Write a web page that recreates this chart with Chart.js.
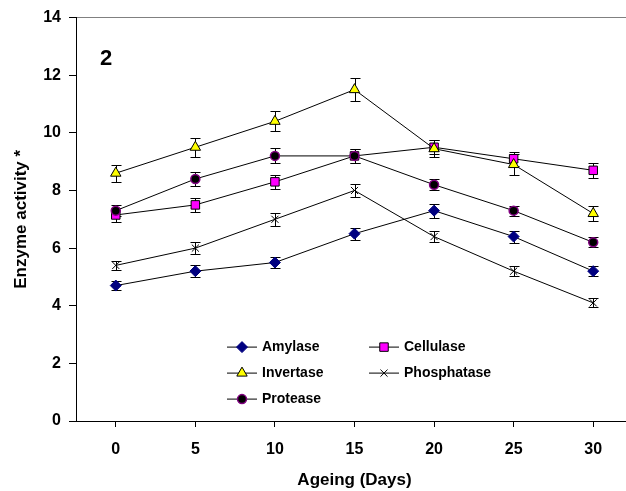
<!DOCTYPE html>
<html>
<head>
<meta charset="utf-8">
<script src="https://cdn.jsdelivr.net/npm/chart.js@4"></script>
<style>
    html, body { margin: 0; padding: 0; background: #fff; overflow: hidden; }
    #wrap { position: relative; width: 640px; height: 491px; }
</style>
</head>
<body>
<div id="wrap"><canvas id="enzymeChart"></canvas></div>
<script>
/* values, ageing in days */
const days = ['0', '5', '10', '15', '20', '25', '30'];

const amylase      = [4.7, 5.2, 5.5, 6.5, 7.3, 6.4, 5.2];
const amylaseErr   = [0.17, 0.2, 0.18, 0.21, 0.24, 0.21, 0.18];
const cellulase    = [7.15, 7.5, 8.3, 9.2, 9.5, 9.1, 8.7];
const cellulaseErr = [0.25, 0.24, 0.25, 0.25, 0.25, 0.25, 0.25];
const invertase    = [8.6, 9.5, 10.4, 11.5, 9.45, 8.9, 7.2];
const invertaseErr = [0.3, 0.33, 0.35, 0.4, 0.3, 0.37, 0.25];
const phosphatase    = [5.4, 6.0, 7.0, 8.0, 6.4, 5.2, 4.1];
const phosphataseErr = [0.17, 0.2, 0.23, 0.24, 0.2, 0.17, 0.16];
const protease     = [7.3, 8.4, 9.2, 9.2, 8.2, 7.3, 6.2];
const proteaseErr  = [0.2, 0.24, 0.26, 0.25, 0.2, 0.17, 0.17];

const yTicks = [0, 2, 4, 6, 8, 10, 12, 14];

const FONT = 'Liberation Sans, Arial, sans-serif';

// Excel-style error bars with caps
const errorBars = {
    id: 'errorBars',
    beforeDatasetsDraw(chart) {
        const ctx = chart.ctx;
        const y = chart.scales.y;
        ctx.save();
        ctx.strokeStyle = '#000';
        ctx.lineWidth = 1;
        chart.data.datasets.forEach((ds, i) => {
            chart.getDatasetMeta(i).data.forEach((pt, j) => {
                const x = Math.round(pt.x) + 0.5;
                const top = Math.round(y.getPixelForValue(ds.data[j] + ds.err[j])) + 0.5;
                const bot = Math.round(y.getPixelForValue(ds.data[j] - ds.err[j])) + 0.5;
                ctx.beginPath();
                ctx.moveTo(x, top); ctx.lineTo(x, bot);
                ctx.moveTo(x - 5, top); ctx.lineTo(x + 5, top);
                ctx.moveTo(x - 5, bot); ctx.lineTo(x + 5, bot);
                ctx.stroke();
            });
        });
        ctx.restore();
    }
};

// panel number and the two-column legend inside the plot
const panelLegend = {
    id: 'panelLegend',
    afterDraw(chart) {
        const ctx = chart.ctx;
        const area = chart.chartArea;
        ctx.save();
        ctx.fillStyle = '#000';
        ctx.font = 'bold 22px ' + FONT;
        ctx.textBaseline = 'alphabetic';
        ctx.fillText('2', area.left + 24, area.top + 47);

        ctx.font = 'bold 14px ' + FONT;
        ctx.textBaseline = 'middle';
        chart.data.datasets.forEach((ds, i) => {
            const x0 = area.left + 151 + (i % 2) * 142;
            const y0 = area.top + 329 + Math.floor(i / 2) * 26;
            ctx.strokeStyle = '#000';
            ctx.lineWidth = 1;
            ctx.beginPath();
            ctx.moveTo(x0, y0 + 0.5);
            ctx.lineTo(x0 + 30, y0 + 0.5);
            ctx.stroke();
            ctx.fillStyle = ds.pointBackgroundColor;
            ctx.strokeStyle = ds.pointBorderColor;
            ctx.lineWidth = ds.pointBorderWidth;
            Chart.helpers.drawPoint(ctx, {
                pointStyle: ds.pointStyle, radius: ds.pointRadius,
                rotation: 0, borderWidth: ds.pointBorderWidth
            }, x0 + 15, y0 + 0.5);
            ctx.fillStyle = '#000';
            ctx.fillText(ds.label, x0 + 35, y0 + 1);
        });
        ctx.restore();
    }
};

// later series sit on top, like the spreadsheet original
function series(label, data, err, style, radius, fill, border, bw, order) {
    return {
        label, data, err, order,
        borderColor: '#000', borderWidth: 1, tension: 0, fill: false,
        pointStyle: style, pointRadius: radius,
        pointBackgroundColor: fill, pointBorderColor: border, pointBorderWidth: bw
    };
}

new Chart(document.getElementById('enzymeChart').getContext('2d'), {
    type: 'line',
    data: {
        labels: days,
        datasets: [
            series('Amylase', amylase, amylaseErr, 'rectRot', 5.5, '#000080', '#000080', 1, 4),
            series('Cellulase', cellulase, cellulaseErr, 'rect', 6, '#FF00FF', '#000', 1, 3),
            series('Invertase', invertase, invertaseErr, 'triangle', 6, '#FFFF00', '#000', 1, 2),
            series('Phosphatase', phosphatase, phosphataseErr, 'crossRot', 5, '#000', '#000', 1, 1),
            series('Protease', protease, proteaseErr, 'circle', 4.5, '#000', '#800080', 1.5, 0)
        ]
    },
    options: {
        responsive: true,
        maintainAspectRatio: false,
        animation: false,
        events: [],
        layout: { padding: { top: 16, right: 1, bottom: 0, left: 0 } },
        plugins: { legend: { display: false }, tooltip: { enabled: false } },
        scales: {
            x: {
                offset: true,
                afterFit: s => { s.height = 70; },
                border: { color: '#000', width: 1 },
                grid: { drawOnChartArea: false, color: '#000', tickLength: 6 },
                ticks: { color: '#000', padding: 13, font: { family: FONT, size: 16, weight: 'bold' } },
                title: {
                    display: true, text: 'Ageing (Days)', color: '#000',
                    padding: { top: 0, bottom: 0 },
                    font: { family: FONT, size: 17, weight: 'bold' }
                }
            },
            y: {
                min: 0, max: 14,
                afterFit: s => { s.width = 76; },
                afterBuildTicks: s => { s.ticks = yTicks.map(v => ({ value: v })); },
                border: { color: '#000', width: 1 },
                grid: {
                    color: c => (c.tick && c.tick.value === 14 ? '#808080' : 'rgba(0,0,0,0)'),
                    tickColor: '#000', tickLength: 7
                },
                ticks: { color: '#000', padding: 8, font: { family: FONT, size: 16, weight: 'bold' } },
                title: {
                    display: true, text: 'Enzyme activity *', color: '#000',
                    padding: { top: 11, bottom: 0 },
                    font: { family: FONT, size: 17, weight: 'bold' }
                }
            }
        }
    },
    plugins: [errorBars, panelLegend]
});
</script>
</body>
</html>
